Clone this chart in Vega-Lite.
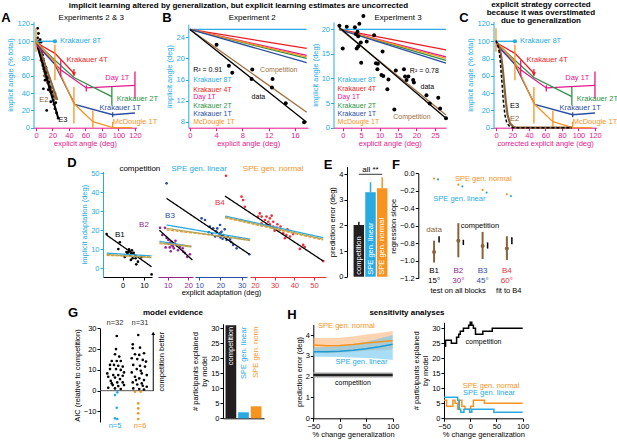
{
"$schema": "https://vega.github.io/schema/vega-lite/v6.json",
"width": 617, "height": 440, "autosize": "none", "padding": 0, "background": "white",
"config": {
  "view": {"stroke": null},
  "font": "Liberation Sans",
  "axis": {"grid": false, "labelFontSize": 7.5, "titleFontSize": 7.5, "titleFontWeight": "normal", "tickSize": 3, "labelFlush": false, "labelOverlap": false, "labelPadding": 1, "titlePadding": 2, "labelFont": "Liberation Sans", "titleFont": "Liberation Sans", "domainColor": "#000", "tickColor": "#000", "labelColor": "#000", "titleColor": "#000"},
  "text": {"font": "Liberation Sans", "fontSize": 7.5},
  "point": {"filled": true, "opacity": 1}
},
"resolve": {"scale": {"x": "independent", "y": "independent", "color": "independent", "shape": "independent", "strokeDash": "independent"}, "axis": {"x": "independent", "y": "independent"}},
"datasets": {
  "labs": [
    {"s":"Krakauer 8T","x":0,"y":100},{"s":"Krakauer 8T","x":23,"y":100},
    {"s":"Krakauer 4T","x":1,"y":98},{"s":"Krakauer 4T","x":23,"y":86},{"s":"Krakauer 4T","x":46,"y":63},
    {"s":"Day 1T","x":0,"y":96},{"s":"Day 1T","x":30,"y":67},{"s":"Day 1T","x":61,"y":46},{"s":"Day 1T","x":120,"y":49},
    {"s":"Krakauer 2T","x":1,"y":98},{"s":"Krakauer 2T","x":23,"y":78},{"s":"Krakauer 2T","x":46,"y":58},{"s":"Krakauer 2T","x":92,"y":36},
    {"s":"Krakauer 1T","x":1,"y":97},{"s":"Krakauer 1T","x":23,"y":73},{"s":"Krakauer 1T","x":47,"y":27},{"s":"Krakauer 1T","x":93,"y":15},{"s":"Krakauer 1T","x":120,"y":17},
    {"s":"McDougle 1T","x":0,"y":100},{"s":"McDougle 1T","x":23,"y":76},{"s":"McDougle 1T","x":46,"y":28},{"s":"McDougle 1T","x":69,"y":7},{"s":"McDougle 1T","x":93,"y":0},{"s":"McDougle 1T","x":116,"y":0}
  ],
  "labErr": [
    {"s":"Day 1T","x":30,"y":59,"y2":78},{"s":"Day 1T","x":61,"y":42,"y2":49},{"s":"Day 1T","x":120,"y":34,"y2":65},
    {"s":"Krakauer 2T","x":92,"y":26,"y2":47},
    {"s":"Krakauer 1T","x":93,"y":12,"y2":18},
    {"s":"Krakauer 4T","x":46,"y":60,"y2":68},
    {"s":"McDougle 1T","x":0,"y":88,"y2":115},{"s":"McDougle 1T","x":23,"y":55,"y2":96},{"s":"McDougle 1T","x":46,"y":5,"y2":47},{"s":"McDougle 1T","x":69,"y":0,"y2":20},{"s":"McDougle 1T","x":93,"y":0,"y2":7}
  ],
  "labMark": [{"s":"Krakauer 8T","x":23,"y":100,"shape":"circle"},{"s":"Krakauer 4T","x":46,"y":62,"shape":"triangle-down"}],
  "labText": [
    {"s":"Krakauer 8T","x":29,"y":100.8,"t":"Krakauer 8T"},
    {"s":"Krakauer 4T","x":37,"y":78,"t":"Krakauer 4T"},
    {"s":"Day 1T","x":84,"y":57,"t":"Day 1T"},
    {"s":"Krakauer 2T","x":98,"y":33.5,"t":"Krakauer 2T"},
    {"s":"Krakauer 1T","x":77,"y":22.5,"t":"Krakauer 1T"},
    {"s":"McDougle 1T","x":93,"y":7,"t":"McDougle 1T"}
  ],
  "aEpts": [
    {"s":"E2","x":3,"y":97},{"s":"E2","x":4,"y":93},{"s":"E2","x":5,"y":95},{"s":"E2","x":5,"y":88},{"s":"E2","x":6,"y":84},{"s":"E2","x":6,"y":90},{"s":"E2","x":7,"y":80},{"s":"E2","x":7,"y":85},{"s":"E2","x":8,"y":76},{"s":"E2","x":8,"y":72},{"s":"E2","x":9,"y":74},{"s":"E2","x":9,"y":68},{"s":"E2","x":10,"y":70},{"s":"E2","x":10,"y":65},{"s":"E2","x":11,"y":66},{"s":"E2","x":11,"y":62},{"s":"E2","x":12,"y":63},{"s":"E2","x":12,"y":58},{"s":"E2","x":13,"y":60},{"s":"E2","x":13,"y":55},{"s":"E2","x":14,"y":56},{"s":"E2","x":14,"y":52},{"s":"E2","x":15,"y":53},{"s":"E2","x":16,"y":50},{"s":"E2","x":16,"y":47},{"s":"E2","x":17,"y":48},{"s":"E2","x":18,"y":44},{"s":"E2","x":19,"y":46},{"s":"E2","x":19,"y":41},{"s":"E2","x":20,"y":42},{"s":"E2","x":21,"y":38},{"s":"E2","x":22,"y":36},{"s":"E2","x":23,"y":40},{"s":"E2","x":24,"y":34},{"s":"E2","x":6,"y":78},{"s":"E2","x":9,"y":80},{"s":"E2","x":12,"y":68},{"s":"E2","x":15,"y":58},{"s":"E2","x":10,"y":60},{"s":"E2","x":17,"y":42},
    {"s":"E3","x":2,"y":115},{"s":"E3","x":3,"y":109},{"s":"E3","x":2,"y":104},{"s":"E3","x":4,"y":100},{"s":"E3","x":3,"y":96},{"s":"E3","x":6,"y":94},{"s":"E3","x":7,"y":88},{"s":"E3","x":8,"y":84},{"s":"E3","x":9,"y":78},{"s":"E3","x":10,"y":74},{"s":"E3","x":12,"y":70},{"s":"E3","x":13,"y":64},{"s":"E3","x":14,"y":58},{"s":"E3","x":16,"y":53},{"s":"E3","x":17,"y":47},{"s":"E3","x":19,"y":41},{"s":"E3","x":20,"y":36},{"s":"E3","x":21,"y":32},{"s":"E3","x":22,"y":27},{"s":"E3","x":23,"y":22},{"s":"E3","x":25,"y":17},{"s":"E3","x":27,"y":11},{"s":"E3","x":13,"y":20},{"s":"E3","x":11,"y":55},{"s":"E3","x":6,"y":99},{"s":"E3","x":15,"y":44},{"s":"E3","x":18,"y":30},{"s":"E3","x":9,"y":45},{"s":"E3","x":5,"y":102},{"s":"E3","x":24,"y":29}
  ],
  "aElines": [{"s":"E2","x":0,"y":103},{"s":"E2","x":26,"y":32},{"s":"E3","x":0,"y":100},{"s":"E3","x":27,"y":11}],
  "aEtext": [{"s":"E2","x":4,"y":32,"t":"E2"},{"s":"E3","x":27,"y":9,"t":"E3"}],
  "cElines": [
    {"s":"E2","x":0,"y":100},{"s":"E2","x":3,"y":96},{"s":"E2","x":6,"y":85},{"s":"E2","x":8,"y":70},{"s":"E2","x":10,"y":50},{"s":"E2","x":12,"y":30},{"s":"E2","x":14,"y":15},{"s":"E2","x":17,"y":5},{"s":"E2","x":21,"y":1},{"s":"E2","x":25,"y":0},{"s":"E2","x":92,"y":0},
    {"s":"E3","x":0,"y":101},{"s":"E3","x":3,"y":93},{"s":"E3","x":5,"y":80},{"s":"E3","x":7,"y":55},{"s":"E3","x":9,"y":30},{"s":"E3","x":11,"y":14},{"s":"E3","x":13,"y":6},{"s":"E3","x":16,"y":2},{"s":"E3","x":20,"y":0},{"s":"E3","x":92,"y":0}
  ],
  "cEtext": [{"s":"E3","x":17,"y":25,"t":"E3"},{"s":"E2","x":17,"y":10,"t":"E2"}],
  "exp2Lines": [
    {"s":"Krakauer 8T","x":0,"y":25.5},{"s":"Krakauer 8T","x":17.8,"y":25.5},
    {"s":"Krakauer 4T","x":0,"y":25.5},{"s":"Krakauer 4T","x":17.8,"y":21.9},
    {"s":"Day 1T","x":0,"y":25.5},{"s":"Day 1T","x":17.8,"y":20.6},
    {"s":"Krakauer 2T","x":0,"y":25.5},{"s":"Krakauer 2T","x":17.8,"y":20.0},
    {"s":"McDougle 1T","x":0,"y":25.5},{"s":"McDougle 1T","x":17.8,"y":20.3},
    {"s":"Krakauer 1T","x":0,"y":25.5},{"s":"Krakauer 1T","x":17.8,"y":19.2},
    {"s":"Competition","x":0,"y":25.5},{"s":"Competition","x":17.8,"y":9.8},
    {"s":"data","x":0,"y":25.5},{"s":"data","x":17.8,"y":7.9}
  ],
  "exp2Pts": [{"x":4.06,"y":22.6},{"x":5.94,"y":18.6},{"x":6.45,"y":17.3},{"x":9.4,"y":16.1},{"x":9.5,"y":17.9},{"x":12.6,"y":16.1},{"x":12.5,"y":14.5},{"x":14.6,"y":11.5},{"x":17.4,"y":7.9}],
  "exp2Text": [
    {"s":"data","x":0.5,"y":17.8,"t":"R² = 0.91"},
    {"s":"Krakauer 8T","x":0.5,"y":16.0,"t":"Krakauer 8T"},
    {"s":"Krakauer 4T","x":0.5,"y":14.1,"t":"Krakauer 4T"},
    {"s":"Day 1T","x":0.5,"y":12.6,"t":"Day 1T"},
    {"s":"Krakauer 2T","x":0.5,"y":11.0,"t":"Krakauer 2T"},
    {"s":"Krakauer 1T","x":0.5,"y":9.45,"t":"Krakauer 1T"},
    {"s":"McDougle 1T","x":0.5,"y":7.95,"t":"McDougle 1T"},
    {"s":"Competition","x":10.7,"y":17.9,"t":"Competition"},
    {"s":"data","x":9.4,"y":12.6,"t":"data"}
  ],
  "exp3Lines": [
    {"s":"Krakauer 8T","x":-1,"y":20},{"s":"Krakauer 8T","x":28,"y":20},
    {"s":"Krakauer 4T","x":-1,"y":20},{"s":"Krakauer 4T","x":28,"y":15.8},
    {"s":"Day 1T","x":-1,"y":20},{"s":"Day 1T","x":28,"y":14.4},
    {"s":"Krakauer 2T","x":-1,"y":20},{"s":"Krakauer 2T","x":28,"y":13.7},
    {"s":"McDougle 1T","x":-1,"y":20},{"s":"McDougle 1T","x":28,"y":14.1},
    {"s":"Krakauer 1T","x":-1,"y":20},{"s":"Krakauer 1T","x":28,"y":13.1},
    {"s":"Competition","x":-1,"y":20.2},{"s":"Competition","x":28,"y":2.6},
    {"s":"data","x":-1,"y":20.4},{"s":"data","x":28,"y":1.9}
  ],
  "exp3Pts": [{"x":-0.9,"y":20.7},{"x":0,"y":16.1},{"x":1.1,"y":20.5},{"x":3.3,"y":20.4},{"x":4,"y":19.5},{"x":4.5,"y":21.1},{"x":3.6,"y":19},{"x":4.2,"y":18.6},{"x":5.6,"y":22.7},{"x":3.8,"y":16.1},{"x":4.2,"y":16.5},{"x":4.9,"y":17.3},{"x":6.5,"y":17.5},{"x":5,"y":13.2},{"x":8.5,"y":18.8},{"x":9,"y":13.1},{"x":9.5,"y":13},{"x":9.4,"y":11.9},{"x":10.8,"y":15.5},{"x":10.5,"y":10.7},{"x":11,"y":10.5},{"x":12.4,"y":9.8},{"x":12.1,"y":7.8},{"x":14.4,"y":11.6},{"x":14,"y":3.7},{"x":16.6,"y":11.9},{"x":16.9,"y":10.4},{"x":17.3,"y":9.7},{"x":17.8,"y":10.4},{"x":19.1,"y":9.7},{"x":19.3,"y":9.2},{"x":22.7,"y":6.6},{"x":23.6,"y":4.9},{"x":25.9,"y":6.1},{"x":26.4,"y":3.9},{"x":28,"y":1.9}],
  "exp3Text": [
    {"s":"Krakauer 8T","x":-1.4,"y":9.7,"t":"Krakauer 8T"},
    {"s":"Krakauer 4T","x":-1.4,"y":7.8,"t":"Krakauer 4T"},
    {"s":"Day 1T","x":-1.4,"y":6.2,"t":"Day 1T"},
    {"s":"Krakauer 2T","x":-1.4,"y":4.4,"t":"Krakauer 2T"},
    {"s":"Krakauer 1T","x":-1.4,"y":2.8,"t":"Krakauer 1T"},
    {"s":"McDougle 1T","x":-1.4,"y":1.2,"t":"McDougle 1T"},
    {"s":"data","x":18.2,"y":11.6,"t":"R² = 0.78"},
    {"s":"data","x":21.1,"y":8.3,"t":"data"},
    {"s":"Competition","x":13.7,"y":2.1,"t":"Competition"}
  ],
  "dPts": [
    {"b":"B1","x":-7.5,"y":18},{"b":"B1","x":-1.3,"y":13.7},{"b":"B1","x":-2,"y":10.1},{"b":"B1","x":2.6,"y":8.4},{"b":"B1","x":1.8,"y":8.6},{"b":"B1","x":3.3,"y":9.0},{"b":"B1","x":4.0,"y":7.6},{"b":"B1","x":2.2,"y":7.5},{"b":"B1","x":3.5,"y":7.0},{"b":"B1","x":4.7,"y":5.3},{"b":"B1","x":3.9,"y":4.4},{"b":"B1","x":6.1,"y":5.3},{"b":"B1","x":7.2,"y":3.5},{"b":"B1","x":6.4,"y":2.1},{"b":"B1","x":13.6,"y":-3.2},{"b":"B1","x":5.2,"y":8.2},{"b":"B1","x":1.0,"y":6.0},{"b":"B1","x":4.4,"y":9.4},{"b":"B1","x":8.8,"y":5.8},{"b":"B1","x":3.0,"y":10.0},
    {"b":"B2","x":6.3,"y":21.3},{"b":"B2","x":8.7,"y":21.3},{"b":"B2","x":7.4,"y":17.5},{"b":"B2","x":10.3,"y":14.9},{"b":"B2","x":11.9,"y":12.3},{"b":"B2","x":11.2,"y":13.5},{"b":"B2","x":12.5,"y":11.5},{"b":"B2","x":12.7,"y":12.2},{"b":"B2","x":13.5,"y":13.0},{"b":"B2","x":11.0,"y":11.0},{"b":"B2","x":12.0,"y":14.0},{"b":"B2","x":10.5,"y":12.8},{"b":"B2","x":13.0,"y":10.5},{"b":"B2","x":9.5,"y":16.0},{"b":"B2","x":14.5,"y":12.0},{"b":"B2","x":16,"y":11.4},{"b":"B2","x":17.6,"y":8.8},{"b":"B2","x":18.4,"y":8.0},{"b":"B2","x":20.8,"y":7.4},{"b":"B2","x":17.3,"y":10.5},{"b":"B2","x":15.0,"y":9.5},{"b":"B2","x":13.8,"y":14.5},{"b":"B2","x":9.0,"y":11.0},{"b":"B2","x":11.5,"y":9.0},{"b":"B2","x":19.5,"y":6.0},
    {"b":"B3","x":-5.4,"y":44.7},{"b":"B3","x":11.1,"y":26.3},{"b":"B3","x":12.7,"y":25.4},{"b":"B3","x":15,"y":21.9},{"b":"B3","x":16.6,"y":21.1},{"b":"B3","x":19.8,"y":22.8},{"b":"B3","x":19.8,"y":18.4},{"b":"B3","x":21.3,"y":17.5},{"b":"B3","x":22.9,"y":14.9},{"b":"B3","x":26,"y":12.3},{"b":"B3","x":27.6,"y":10.5},{"b":"B3","x":33.6,"y":7.4},{"b":"B3","x":18,"y":19.5},{"b":"B3","x":19,"y":17},{"b":"B3","x":20.5,"y":19.2},{"b":"B3","x":22,"y":20.5},{"b":"B3","x":17.5,"y":16.8},{"b":"B3","x":23.5,"y":16.5},{"b":"B3","x":21,"y":15.5},{"b":"B3","x":18.5,"y":21},{"b":"B3","x":24.5,"y":15.2},{"b":"B3","x":16,"y":18},{"b":"B3","x":20,"y":16.2},{"b":"B3","x":25,"y":13.8},{"b":"B3","x":14.5,"y":19},
    {"b":"B4","x":5.3,"y":48.7},{"b":"B4","x":13.2,"y":37.7},{"b":"B4","x":14,"y":35.9},{"b":"B4","x":14.9,"y":32.4},{"b":"B4","x":22.5,"y":28.9},{"b":"B4","x":23.4,"y":27.2},{"b":"B4","x":25.9,"y":27.2},{"b":"B4","x":28.5,"y":27.7},{"b":"B4","x":25.1,"y":25.4},{"b":"B4","x":26.8,"y":24.5},{"b":"B4","x":27.6,"y":23.1},{"b":"B4","x":29.3,"y":21.9},{"b":"B4","x":31,"y":21.4},{"b":"B4","x":26,"y":22.8},{"b":"B4","x":23.4,"y":23.7},{"b":"B4","x":32.7,"y":20.2},{"b":"B4","x":34.4,"y":18.4},{"b":"B4","x":36,"y":17.5},{"b":"B4","x":37.8,"y":16.7},{"b":"B4","x":35.2,"y":15.8},{"b":"B4","x":39.4,"y":18},{"b":"B4","x":44.5,"y":12.3},{"b":"B4","x":42.8,"y":10.2},{"b":"B4","x":45.3,"y":11.2},{"b":"B4","x":54.7,"y":3.8},{"b":"B4","x":27.6,"y":26.3},{"b":"B4","x":29.3,"y":24.5},{"b":"B4","x":21.6,"y":27.2},{"b":"B4","x":31.4,"y":23.2},{"b":"B4","x":33,"y":22},{"b":"B4","x":30,"y":19.8},{"b":"B4","x":36.5,"y":20.5}
  ],
  "dLines": [
    {"b":"B1","m":"competition","x":-7.5,"y":17.5},{"b":"B1","m":"competition","x":13.6,"y":0.8},
    {"b":"B1","m":"linear","x":-7.5,"y":8},{"b":"B1","m":"linear","x":13.6,"y":6.5},
    {"b":"B1","m":"normal","x":-7.5,"y":6.8},{"b":"B1","m":"normal","x":13.6,"y":6.0},
    {"b":"B1","m":"olive","x":-7.5,"y":7.3},{"b":"B1","m":"olive","x":13.6,"y":5.6},
    {"b":"B2","m":"competition","x":6,"y":20},{"b":"B2","m":"competition","x":22,"y":4.4},
    {"b":"B2","m":"linear","x":6,"y":14.2},{"b":"B2","m":"linear","x":21.5,"y":11.5},
    {"b":"B2","m":"normal","x":6,"y":13.0},{"b":"B2","m":"normal","x":21.5,"y":11.8},
    {"b":"B2","m":"olive","x":6,"y":13.5},{"b":"B2","m":"olive","x":21.5,"y":11.2},
    {"b":"B3","m":"competition","x":-5.4,"y":36.8},{"b":"B3","m":"competition","x":33.6,"y":7.4},
    {"b":"B3","m":"linear","x":-5.4,"y":22.8},{"b":"B3","m":"linear","x":34,"y":15.3},
    {"b":"B3","m":"normal","x":-5.4,"y":20.2},{"b":"B3","m":"normal","x":34,"y":15.0},
    {"b":"B3","m":"olive","x":-5.4,"y":21},{"b":"B3","m":"olive","x":34,"y":14.6},
    {"b":"B4","m":"competition","x":4.8,"y":38},{"b":"B4","m":"competition","x":54.7,"y":3.8},
    {"b":"B4","m":"linear","x":4.8,"y":27.5},{"b":"B4","m":"linear","x":54.7,"y":16.1},
    {"b":"B4","m":"normal","x":4.8,"y":26.6},{"b":"B4","m":"normal","x":54.7,"y":14.9},
    {"b":"B4","m":"olive","x":4.8,"y":27},{"b":"B4","m":"olive","x":54.7,"y":15.3}
  ],
  "eBars": [{"m":"competition","y":2.02,"hi":2.15},{"m":"SPE gen. linear","y":3.3,"hi":3.69},{"m":"SPE gen. normal","y":3.45,"hi":3.88}],
  "fData": [{"b":1,"y":-0.9,"lo":-1.02,"hi":-0.77},{"b":2,"y":-0.77,"lo":-0.96,"hi":-0.57},{"b":3,"y":-0.83,"lo":-0.98,"hi":-0.67},{"b":4,"y":-0.86,"lo":-0.99,"hi":-0.72}],
  "fComp": [{"b":1,"y":-0.79,"y2":-0.72},{"b":2,"y":-0.82,"y2":-0.76},{"b":3,"y":-0.86,"y2":-0.79},{"b":4,"y":-0.81,"y2":-0.73}],
  "fSpe": [{"b":1,"m":"normal","y":-0.06},{"b":2,"m":"normal","y":-0.13},{"b":3,"m":"normal","y":-0.19},{"b":4,"m":"normal","y":-0.24},{"b":1,"m":"linear","y":-0.07},{"b":2,"m":"linear","y":-0.15},{"b":3,"m":"linear","y":-0.22},{"b":4,"m":"linear","y":-0.26}],
  "fLab": [{"k":"B1","b":1,"y":-1.12,"t":"B1"},{"k":"B2","b":2,"y":-1.12,"t":"B2"},{"k":"B3","b":3,"y":-1.12,"t":"B3"},{"k":"B4","b":4,"y":-1.12,"t":"B4"},{"k":"B1","b":1,"y":-1.235,"t":"15°"},{"k":"B2","b":2,"y":-1.235,"t":"30°"},{"k":"B3","b":3,"y":-1.235,"t":"45°"},{"k":"B4","b":4,"y":-1.235,"t":"60°"}],
  "gPts": [
    {"g":"comp","x":1.07,"y":26.3},{"g":"comp","x":1.04,"y":20},{"g":"comp","x":1.0,"y":17.5},{"g":"comp","x":0.87,"y":14.3},{"g":"comp","x":1.07,"y":14.3},{"g":"comp","x":1.23,"y":14.3},{"g":"comp","x":0.96,"y":12.4},{"g":"comp","x":1.13,"y":12},{"g":"comp","x":1.31,"y":11.6},{"g":"comp","x":0.8,"y":10.4},{"g":"comp","x":1.04,"y":10.4},{"g":"comp","x":1.23,"y":10},{"g":"comp","x":1.36,"y":8.8},{"g":"comp","x":0.93,"y":7.5},{"g":"comp","x":1.13,"y":7.5},{"g":"comp","x":0.73,"y":6.7},{"g":"comp","x":1.0,"y":6.3},{"g":"comp","x":1.2,"y":5.6},{"g":"comp","x":0.83,"y":4.7},{"g":"comp","x":1.09,"y":4.0},{"g":"comp","x":1.31,"y":4.0},{"g":"comp","x":0.91,"y":2.7},{"g":"comp","x":1.13,"y":2.2},{"g":"comp","x":0.73,"y":1.4},{"g":"comp","x":1.0,"y":1.1},{"g":"comp","x":1.23,"y":0.8},{"g":"comp","x":0.87,"y":3.5},{"g":"comp","x":1.31,"y":7.2},{"g":"comp","x":0.8,"y":12.4},{"g":"comp","x":1.17,"y":16.4},{"g":"comp","x":0.69,"y":8.3},{"g":"comp","x":1.36,"y":2.7},
    {"g":"lin","x":1.09,"y":-0.8},{"g":"lin","x":1.0,"y":-2.1},{"g":"lin","x":1.07,"y":-8.2},{"g":"lin","x":1.0,"y":-13.3},{"g":"lin","x":1.09,"y":-13.6},
    {"g":"comp","x":1.93,"y":26.8},{"g":"comp","x":1.71,"y":20.4},{"g":"comp","x":2.0,"y":20.7},{"g":"comp","x":1.8,"y":17.5},{"g":"comp","x":1.97,"y":17.2},{"g":"comp","x":2.16,"y":18},{"g":"comp","x":1.67,"y":15.6},{"g":"comp","x":1.89,"y":15.2},{"g":"comp","x":2.11,"y":14.8},{"g":"comp","x":1.73,"y":12.4},{"g":"comp","x":2.0,"y":12},{"g":"comp","x":2.2,"y":11.6},{"g":"comp","x":1.87,"y":10.4},{"g":"comp","x":1.67,"y":8.8},{"g":"comp","x":2.07,"y":8.3},{"g":"comp","x":2.27,"y":7.5},{"g":"comp","x":1.8,"y":6.7},{"g":"comp","x":1.97,"y":5.9},{"g":"comp","x":2.16,"y":5.1},{"g":"comp","x":1.71,"y":4.0},{"g":"comp","x":1.89,"y":3.0},{"g":"comp","x":2.11,"y":2.4},{"g":"comp","x":2.27,"y":1.9},{"g":"comp","x":1.73,"y":1.1},{"g":"comp","x":1.97,"y":0.8},{"g":"comp","x":2.16,"y":0.6},{"g":"comp","x":1.84,"y":5.1},{"g":"comp","x":2.03,"y":9.6},{"g":"comp","x":2.24,"y":14},{"g":"comp","x":1.71,"y":22.3},{"g":"comp","x":2.07,"y":3.5},
    {"g":"norm","x":1.8,"y":-0.5},{"g":"norm","x":2.03,"y":-0.5},{"g":"norm","x":1.93,"y":-6.1},{"g":"norm","x":1.93,"y":-8.5},{"g":"norm","x":1.93,"y":-10.9},{"g":"norm","x":1.93,"y":-13.6}
  ],
  "gBars": [{"m":"competition","y":31,"lab":"competition"},{"m":"SPE gen. linear","y":2,"lab":"SPE gen. linear"},{"m":"SPE gen. normal","y":4,"lab":"SPE gen. norm"}],
  "hBand": [
    {"m":"competition","x":-50,"y":2.08,"lo":1.95,"hi":2.21},{"m":"competition","x":100,"y":2.08,"lo":1.95,"hi":2.21},
    {"m":"normal","x":-50,"y":3.52,"lo":3.17,"hi":3.87},{"m":"normal","x":-25,"y":3.48,"lo":3.13,"hi":3.85},{"m":"normal","x":0,"y":3.5,"lo":3.15,"hi":3.87},{"m":"normal","x":25,"y":3.55,"lo":3.2,"hi":3.93},{"m":"normal","x":50,"y":3.62,"lo":3.24,"hi":4.02},{"m":"normal","x":75,"y":3.68,"lo":3.27,"hi":4.1},{"m":"normal","x":100,"y":3.72,"lo":3.3,"hi":4.19},
    {"m":"linear","x":-50,"y":3.2,"lo":2.96,"hi":3.4},{"m":"linear","x":-25,"y":3.2,"lo":2.95,"hi":3.42},{"m":"linear","x":0,"y":3.22,"lo":2.94,"hi":3.47},{"m":"linear","x":25,"y":3.27,"lo":2.92,"hi":3.56},{"m":"linear","x":50,"y":3.34,"lo":2.9,"hi":3.68},{"m":"linear","x":75,"y":3.44,"lo":2.86,"hi":3.83},{"m":"linear","x":100,"y":3.56,"lo":2.8,"hi":4.0}
  ],
  "hStep": [
    {"m":"competition","x":-50,"y":24},{"m":"competition","x":-47,"y":26},{"m":"competition","x":-36,"y":25},{"m":"competition","x":-26,"y":27},{"m":"competition","x":-22,"y":28},{"m":"competition","x":-19,"y":29},{"m":"competition","x":-13,"y":30},{"m":"competition","x":-3,"y":31},{"m":"competition","x":0,"y":32},{"m":"competition","x":3,"y":31},{"m":"competition","x":6,"y":30},{"m":"competition","x":10,"y":28},{"m":"competition","x":24,"y":29},{"m":"competition","x":42,"y":30},{"m":"competition","x":100,"y":30},
    {"m":"SPE gen. normal","x":-50,"y":6},{"m":"SPE gen. normal","x":-45,"y":4},{"m":"SPE gen. normal","x":-33,"y":6},{"m":"SPE gen. normal","x":-29,"y":5},{"m":"SPE gen. normal","x":-24,"y":3},{"m":"SPE gen. normal","x":-21,"y":6},{"m":"SPE gen. normal","x":-16,"y":4},{"m":"SPE gen. normal","x":-10,"y":3},{"m":"SPE gen. normal","x":1,"y":4},{"m":"SPE gen. normal","x":6,"y":6},{"m":"SPE gen. normal","x":27,"y":5},{"m":"SPE gen. normal","x":100,"y":5},
    {"m":"SPE gen. linear","x":-50,"y":7},{"m":"SPE gen. linear","x":-24,"y":6},{"m":"SPE gen. linear","x":-21,"y":3},{"m":"SPE gen. linear","x":-18,"y":2},{"m":"SPE gen. linear","x":-12,"y":3},{"m":"SPE gen. linear","x":-1,"y":2},{"m":"SPE gen. linear","x":3,"y":3},{"m":"SPE gen. linear","x":45,"y":2},{"m":"SPE gen. linear","x":100,"y":2}
  ]
},
"layer": [
  {
    "encoding": {
      "x": {"field":"x","type":"quantitative","scale":{"domain":[-3,122],"range":[33.5,136.6],"nice":false,"zero":false},"axis":{"orient":"bottom","offset":-312.3,"values":[0,20,40,60,80,100,120],"title":"explicit angle (deg)","titlePadding":0,"domainColor":"#e6168b","tickColor":"#e6168b","labelColor":"#e6168b","titleColor":"#e6168b"}},
      "y": {"field":"y","type":"quantitative","scale":{"domain":[0,123],"range":[127.7,21.4],"nice":false,"zero":false},"axis":{"orient":"left","offset":-33.5,"values":[0,20,40,60,80,100,120],"title":"implicit angle (% total)","domainColor":"#29abe2","tickColor":"#29abe2","labelColor":"#29abe2","titleColor":"#29abe2"}}
    },
    "layer": [
      {"data":{"name":"aEpts"},"mark":{"type":"point","size":8},"encoding":{"color":{"field":"s","type":"nominal","legend":null,"scale":{"domain":["Krakauer 8T","Krakauer 4T","Day 1T","Krakauer 2T","Krakauer 1T","McDougle 1T","E2","E3","Competition","data"],"range":["#29abe2","#ed1c24","#e6168b","#2e9245","#2b4ea2","#f7931e","#8c6239","#000000","#a0703f","#000000"]}}}},
      {"data":{"name":"aElines"},"mark":{"type":"line","strokeWidth":2},"encoding":{"color":{"field":"s","type":"nominal","legend":null,"scale":{"domain":["Krakauer 8T","Krakauer 4T","Day 1T","Krakauer 2T","Krakauer 1T","McDougle 1T","E2","E3","Competition","data"],"range":["#29abe2","#ed1c24","#e6168b","#2e9245","#2b4ea2","#f7931e","#8c6239","#000000","#a0703f","#000000"]}}}},
      {"data":{"name":"labs"},"mark":{"type":"line","strokeWidth":1.3},"encoding":{"color":{"field":"s","type":"nominal","legend":null,"scale":{"domain":["Krakauer 8T","Krakauer 4T","Day 1T","Krakauer 2T","Krakauer 1T","McDougle 1T","E2","E3","Competition","data"],"range":["#29abe2","#ed1c24","#e6168b","#2e9245","#2b4ea2","#f7931e","#8c6239","#000000","#a0703f","#000000"]}}}},
      {"data":{"name":"labErr"},"mark":{"type":"rule","strokeWidth":1.3},"encoding":{"y2":{"field":"y2"},"color":{"field":"s","type":"nominal","legend":null,"scale":{"domain":["Krakauer 8T","Krakauer 4T","Day 1T","Krakauer 2T","Krakauer 1T","McDougle 1T","E2","E3","Competition","data"],"range":["#29abe2","#ed1c24","#e6168b","#2e9245","#2b4ea2","#f7931e","#8c6239","#000000","#a0703f","#000000"]}}}},
      {"data":{"name":"labMark"},"mark":{"type":"point","size":18},"encoding":{"shape":{"field":"shape","type":"nominal","scale":null},"color":{"field":"s","type":"nominal","legend":null,"scale":{"domain":["Krakauer 8T","Krakauer 4T","Day 1T","Krakauer 2T","Krakauer 1T","McDougle 1T","E2","E3","Competition","data"],"range":["#29abe2","#ed1c24","#e6168b","#2e9245","#2b4ea2","#f7931e","#8c6239","#000000","#a0703f","#000000"]}}}},
      {"data":{"name":"labText"},"mark":{"type":"text","align":"left","baseline":"middle"},"encoding":{"text":{"field":"t","type":"nominal"},"color":{"field":"s","type":"nominal","legend":null,"scale":{"domain":["Krakauer 8T","Krakauer 4T","Day 1T","Krakauer 2T","Krakauer 1T","McDougle 1T","E2","E3","Competition","data"],"range":["#29abe2","#ed1c24","#e6168b","#2e9245","#2b4ea2","#f7931e","#8c6239","#000000","#a0703f","#000000"]}}}},
      {"data":{"name":"aEtext"},"mark":{"type":"text","align":"left","baseline":"middle"},"encoding":{"text":{"field":"t","type":"nominal"},"color":{"field":"s","type":"nominal","legend":null,"scale":{"domain":["Krakauer 8T","Krakauer 4T","Day 1T","Krakauer 2T","Krakauer 1T","McDougle 1T","E2","E3","Competition","data"],"range":["#29abe2","#ed1c24","#e6168b","#2e9245","#2b4ea2","#f7931e","#8c6239","#000000","#a0703f","#000000"]}}}},
      {"data":{"values":[{"x":67,"y":127,"t":"Experiments 2 & 3"}]},"mark":{"type":"text","fontSize":8,"baseline":"middle"},"encoding":{"text":{"field":"t","type":"nominal"}}},
      {"data":{"values":[{"x":-36.4,"y":127,"t":"A"}]},"mark":{"type":"text","fontSize":13,"fontWeight":"bold","baseline":"middle"},"encoding":{"text":{"field":"t","type":"nominal"}}}
    ]
  },
  {
    "encoding": {
      "x": {"field":"x","type":"quantitative","scale":{"domain":[-0.25,18],"range":[188.3,308],"nice":false,"zero":false},"axis":{"orient":"bottom","offset":-312.3,"values":[0,4,8,12,16],"title":"explicit angle (deg)","titlePadding":0,"domainColor":"#e6168b","tickColor":"#e6168b","labelColor":"#e6168b","titleColor":"#e6168b"}},
      "y": {"field":"y","type":"quantitative","scale":{"domain":[6.86,26.5],"range":[127.7,24.2],"nice":false,"zero":false},"axis":{"orient":"left","offset":-188.3,"values":[8,12,16,20,24],"title":"implicit angle (deg)","domainColor":"#29abe2","tickColor":"#29abe2","labelColor":"#29abe2","titleColor":"#29abe2"}}
    },
    "layer": [
      {"data":{"name":"exp2Lines"},"mark":{"type":"line","strokeWidth":1.3},"encoding":{"color":{"field":"s","type":"nominal","legend":null,"scale":{"domain":["Krakauer 8T","Krakauer 4T","Day 1T","Krakauer 2T","Krakauer 1T","McDougle 1T","E2","E3","Competition","data"],"range":["#29abe2","#ed1c24","#e6168b","#2e9245","#2b4ea2","#f7931e","#8c6239","#000000","#a0703f","#000000"]}}}},
      {"data":{"name":"exp2Pts"},"mark":{"type":"point","size":16,"color":"#000"}},
      {"data":{"name":"exp2Text"},"mark":{"type":"text","align":"left","baseline":"middle","fontSize":7},"encoding":{"text":{"field":"t","type":"nominal"},"color":{"field":"s","type":"nominal","legend":null,"scale":{"domain":["Krakauer 8T","Krakauer 4T","Day 1T","Krakauer 2T","Krakauer 1T","McDougle 1T","E2","E3","Competition","data"],"range":["#29abe2","#ed1c24","#e6168b","#2e9245","#2b4ea2","#f7931e","#8c6239","#000000","#a0703f","#000000"]}}}},
      {"data":{"values":[{"x":9.5,"y":27.7,"t":"Experiment 2"}]},"mark":{"type":"text","fontSize":8,"baseline":"middle"},"encoding":{"text":{"field":"t","type":"nominal"}}},
      {"data":{"values":[{"x":-3.5,"y":27.7,"t":"B"}]},"mark":{"type":"text","fontSize":13,"fontWeight":"bold","baseline":"middle"},"encoding":{"text":{"field":"t","type":"nominal"}}},
      {"data":{"values":[{"x":7.4,"y":29.95,"t":"implicit learning altered by generalization, but explicit learning estimates are uncorrected"}]},"mark":{"type":"text","fontSize":8,"fontWeight":"bold","baseline":"middle"},"encoding":{"text":{"field":"t","type":"nominal"}}}
    ]
  },
  {
    "encoding": {
      "x": {"field":"x","type":"quantitative","scale":{"domain":[-2.5,28],"range":[333.5,446],"nice":false,"zero":false},"axis":{"orient":"bottom","offset":-312.3,"values":[0,5,10,15,20,25],"title":"explicit angle (deg)","titlePadding":0,"domainColor":"#e6168b","tickColor":"#e6168b","labelColor":"#e6168b","titleColor":"#e6168b"}},
      "y": {"field":"y","type":"quantitative","scale":{"domain":[0,21.5],"range":[127.7,21.9],"nice":false,"zero":false},"axis":{"orient":"left","offset":-333.5,"values":[0,5,10,15,20],"title":"implicit angle (deg)","domainColor":"#29abe2","tickColor":"#29abe2","labelColor":"#29abe2","titleColor":"#29abe2"}}
    },
    "layer": [
      {"data":{"name":"exp3Lines"},"mark":{"type":"line","strokeWidth":1.3},"encoding":{"color":{"field":"s","type":"nominal","legend":null,"scale":{"domain":["Krakauer 8T","Krakauer 4T","Day 1T","Krakauer 2T","Krakauer 1T","McDougle 1T","E2","E3","Competition","data"],"range":["#29abe2","#ed1c24","#e6168b","#2e9245","#2b4ea2","#f7931e","#8c6239","#000000","#a0703f","#000000"]}}}},
      {"data":{"name":"exp3Pts"},"mark":{"type":"point","size":16,"color":"#000"}},
      {"data":{"name":"exp3Text"},"mark":{"type":"text","align":"left","baseline":"middle","fontSize":7},"encoding":{"text":{"field":"t","type":"nominal"},"color":{"field":"s","type":"nominal","legend":null,"scale":{"domain":["Krakauer 8T","Krakauer 4T","Day 1T","Krakauer 2T","Krakauer 1T","McDougle 1T","E2","E3","Competition","data"],"range":["#29abe2","#ed1c24","#e6168b","#2e9245","#2b4ea2","#f7931e","#8c6239","#000000","#a0703f","#000000"]}}}},
      {"data":{"values":[{"x":15,"y":22.3,"t":"Experiment 3"}]},"mark":{"type":"text","fontSize":8,"baseline":"middle"},"encoding":{"text":{"field":"t","type":"nominal"}}}
    ]
  },
  {
    "encoding": {
      "x": {"field":"x","type":"quantitative","scale":{"domain":[-3,122],"range":[493.5,596.6],"nice":false,"zero":false},"axis":{"orient":"bottom","offset":-312.3,"values":[0,20,40,60,80,100,120],"title":"corrected explicit angle (deg)","titlePadding":0,"domainColor":"#e6168b","tickColor":"#e6168b","labelColor":"#e6168b","titleColor":"#e6168b"}},
      "y": {"field":"y","type":"quantitative","scale":{"domain":[0,123],"range":[127.7,21.4],"nice":false,"zero":false},"axis":{"orient":"left","offset":-493.5,"values":[0,20,40,60,80,100,120],"title":"implicit angle (% total)","domainColor":"#29abe2","tickColor":"#29abe2","labelColor":"#29abe2","titleColor":"#29abe2"}}
    },
    "layer": [
      {"data":{"name":"labs"},"mark":{"type":"line","strokeWidth":1.3},"encoding":{"color":{"field":"s","type":"nominal","legend":null,"scale":{"domain":["Krakauer 8T","Krakauer 4T","Day 1T","Krakauer 2T","Krakauer 1T","McDougle 1T","E2","E3","Competition","data"],"range":["#29abe2","#ed1c24","#e6168b","#2e9245","#2b4ea2","#f7931e","#8c6239","#000000","#a0703f","#000000"]}}}},
      {"data":{"name":"labErr"},"mark":{"type":"rule","strokeWidth":1.3},"encoding":{"y2":{"field":"y2"},"color":{"field":"s","type":"nominal","legend":null,"scale":{"domain":["Krakauer 8T","Krakauer 4T","Day 1T","Krakauer 2T","Krakauer 1T","McDougle 1T","E2","E3","Competition","data"],"range":["#29abe2","#ed1c24","#e6168b","#2e9245","#2b4ea2","#f7931e","#8c6239","#000000","#a0703f","#000000"]}}}},
      {"data":{"name":"labMark"},"mark":{"type":"point","size":18},"encoding":{"shape":{"field":"shape","type":"nominal","scale":null},"color":{"field":"s","type":"nominal","legend":null,"scale":{"domain":["Krakauer 8T","Krakauer 4T","Day 1T","Krakauer 2T","Krakauer 1T","McDougle 1T","E2","E3","Competition","data"],"range":["#29abe2","#ed1c24","#e6168b","#2e9245","#2b4ea2","#f7931e","#8c6239","#000000","#a0703f","#000000"]}}}},
      {"data":{"name":"cElines"},"transform":[{"filter":"datum.s == 'E2'"}],"mark":{"type":"line","strokeWidth":2.2,"color":"#8c6239"}},
      {"data":{"name":"cElines"},"transform":[{"filter":"datum.s == 'E3'"}],"mark":{"type":"line","strokeWidth":1.5,"color":"#000","strokeDash":[3,2]}},
      {"data":{"name":"labText"},"mark":{"type":"text","align":"left","baseline":"middle"},"encoding":{"text":{"field":"t","type":"nominal"},"color":{"field":"s","type":"nominal","legend":null,"scale":{"domain":["Krakauer 8T","Krakauer 4T","Day 1T","Krakauer 2T","Krakauer 1T","McDougle 1T","E2","E3","Competition","data"],"range":["#29abe2","#ed1c24","#e6168b","#2e9245","#2b4ea2","#f7931e","#8c6239","#000000","#a0703f","#000000"]}}}},
      {"data":{"name":"cEtext"},"mark":{"type":"text","align":"left","baseline":"middle"},"encoding":{"text":{"field":"t","type":"nominal"},"color":{"field":"s","type":"nominal","legend":null,"scale":{"domain":["Krakauer 8T","Krakauer 4T","Day 1T","Krakauer 2T","Krakauer 1T","McDougle 1T","E2","E3","Competition","data"],"range":["#29abe2","#ed1c24","#e6168b","#2e9245","#2b4ea2","#f7931e","#8c6239","#000000","#a0703f","#000000"]}}}},
      {"data":{"values":[{"x":54.5,"y":142,"t":"explicit strategy corrected"},{"x":54.5,"y":132.4,"t":"because it was overstimated"},{"x":54.5,"y":123.4,"t":"due to generalization"}]},"mark":{"type":"text","fontSize":8,"fontWeight":"bold","baseline":"middle"},"encoding":{"text":{"field":"t","type":"nominal"}}},
      {"data":{"values":[{"x":-38.8,"y":127,"t":"C"}]},"mark":{"type":"text","fontSize":13,"fontWeight":"bold","baseline":"middle"},"encoding":{"text":{"field":"t","type":"nominal"}}}
    ]
  },
  {
    "encoding": {
      "x": {"field":"x","type":"quantitative","scale":{"domain":[-9.2,13.8],"range":[103,152],"nice":false,"zero":false},"axis":{"orient":"bottom","offset":-163,"values":[0,10],"title":null}},
      "y": {"field":"y","type":"quantitative","scale":{"domain":[-4.5,51],"range":[276.85,171.4],"nice":false,"zero":false},"axis":{"orient":"left","offset":-103,"values":[0,10,20,30,40,50],"title":"implicit adaptation (deg)","domainColor":"#29abe2","tickColor":"#29abe2","labelColor":"#29abe2","titleColor":"#29abe2"}}
    },
    "layer": [
      {"data":{"name":"dPts"},"transform":[{"filter":"datum.b == 'B1'"}],"mark":{"type":"point","size":7,"color":"#000"}},
      {"data":{"name":"dLines"},"transform":[{"filter":"datum.b == 'B1'"}],"mark":{"type":"line","strokeWidth":1.3},"encoding":{"color":{"field":"m","type":"nominal","legend":null,"scale":{"domain":["olive","normal","linear","competition"],"range":["#b3a65a","#f7931e","#29abe2","#000000"]}},"strokeDash":{"field":"m","type":"nominal","legend":null,"scale":{"domain":["olive","normal","linear","competition"],"range":[[1,0],[3,1.5],[1,0],[1,0]]}}}},
      {"data":{"values":[{"x":-1.3,"y":17.5,"t":"B1"}]},"mark":{"type":"text","fontSize":8,"baseline":"middle"},"encoding":{"text":{"field":"t","type":"nominal"}}},
      {"data":{"values":[{"x":8.1,"y":52.3,"t":"competition"}]},"mark":{"type":"text","fontSize":8,"baseline":"middle"},"encoding":{"text":{"field":"t","type":"nominal"}}},
      {"data":{"values":[{"x":-23.8,"y":55.4,"t":"D"}]},"mark":{"type":"text","fontSize":13,"fontWeight":"bold","baseline":"middle"},"encoding":{"text":{"field":"t","type":"nominal"}}}
    ]
  },
  {
    "encoding": {
      "x": {"field":"x","type":"quantitative","scale":{"domain":[5.3,22.3],"range":[158,193],"nice":false,"zero":false},"axis":{"orient":"bottom","offset":-163,"values":[10,20],"title":null,"domainColor":"#92278f","tickColor":"#92278f","labelColor":"#92278f"}},
      "y": {"field":"y","type":"quantitative","scale":{"domain":[-4.5,51],"range":[276.85,171.4],"nice":false,"zero":false},"axis":null}
    },
    "layer": [
      {"data":{"name":"dPts"},"transform":[{"filter":"datum.b == 'B2'"}],"mark":{"type":"point","size":7,"color":"#92278f"}},
      {"data":{"name":"dLines"},"transform":[{"filter":"datum.b == 'B2'"}],"mark":{"type":"line","strokeWidth":1.3},"encoding":{"color":{"field":"m","type":"nominal","legend":null,"scale":{"domain":["olive","normal","linear","competition"],"range":["#b3a65a","#f7931e","#29abe2","#000000"]}},"strokeDash":{"field":"m","type":"nominal","legend":null,"scale":{"domain":["olive","normal","linear","competition"],"range":[[1,0],[3,1.5],[1,0],[1,0]]}}}},
      {"data":{"values":[{"x":-1.5,"y":22.8,"t":"B2"}]},"mark":{"type":"text","fontSize":8,"baseline":"middle","color":"#92278f"},"encoding":{"text":{"field":"t","type":"nominal"}}}
    ]
  },
  {
    "encoding": {
      "x": {"field":"x","type":"quantitative","scale":{"domain":[8,32.5],"range":[195,247],"nice":false,"zero":false},"axis":{"orient":"bottom","offset":-163,"values":[10,20,30],"title":"explicit adaptation (deg)","titlePadding":0,"domainColor":"#2b4ea2","tickColor":"#2b4ea2","labelColor":"#2b4ea2","titleColor":"#000"}},
      "y": {"field":"y","type":"quantitative","scale":{"domain":[-4.5,51],"range":[276.85,171.4],"nice":false,"zero":false},"axis":null}
    },
    "layer": [
      {"data":{"name":"dPts"},"transform":[{"filter":"datum.b == 'B3'"}],"mark":{"type":"point","size":7,"color":"#2b4ea2"}},
      {"data":{"name":"dLines"},"transform":[{"filter":"datum.b == 'B3'"}],"mark":{"type":"line","strokeWidth":1.3},"encoding":{"color":{"field":"m","type":"nominal","legend":null,"scale":{"domain":["olive","normal","linear","competition"],"range":["#b3a65a","#f7931e","#29abe2","#000000"]}},"strokeDash":{"field":"m","type":"nominal","legend":null,"scale":{"domain":["olive","normal","linear","competition"],"range":[[1,0],[3,1.5],[1,0],[1,0]]}}}},
      {"data":{"values":[{"x":-3.8,"y":27.5,"t":"B3"}]},"mark":{"type":"text","fontSize":8,"baseline":"middle","color":"#2b4ea2"},"encoding":{"text":{"field":"t","type":"nominal"}}},
      {"data":{"values":[{"x":9.9,"y":52.3,"t":"SPE gen. linear"}]},"mark":{"type":"text","fontSize":8,"baseline":"middle","color":"#29abe2"},"encoding":{"text":{"field":"t","type":"nominal"}}}
    ]
  },
  {
    "encoding": {
      "x": {"field":"x","type":"quantitative","scale":{"domain":[17.5,56],"range":[250,325.8],"nice":false,"zero":false},"axis":{"orient":"bottom","offset":-163,"values":[20,30,40,50],"title":null,"domainColor":"#e8303a","tickColor":"#e8303a","labelColor":"#e8303a"}},
      "y": {"field":"y","type":"quantitative","scale":{"domain":[-4.5,51],"range":[276.85,171.4],"nice":false,"zero":false},"axis":null}
    },
    "layer": [
      {"data":{"name":"dPts"},"transform":[{"filter":"datum.b == 'B4'"}],"mark":{"type":"point","size":7,"color":"#e8303a"}},
      {"data":{"name":"dLines"},"transform":[{"filter":"datum.b == 'B4'"}],"mark":{"type":"line","strokeWidth":1.3},"encoding":{"color":{"field":"m","type":"nominal","legend":null,"scale":{"domain":["olive","normal","linear","competition"],"range":["#b3a65a","#f7931e","#29abe2","#000000"]}},"strokeDash":{"field":"m","type":"nominal","legend":null,"scale":{"domain":["olive","normal","linear","competition"],"range":[[1,0],[3,1.5],[1,0],[1,0]]}}}},
      {"data":{"values":[{"x":2.2,"y":34.2,"t":"B4"}]},"mark":{"type":"text","fontSize":8,"baseline":"middle","color":"#e8303a"},"encoding":{"text":{"field":"t","type":"nominal"}}},
      {"data":{"values":[{"x":29.2,"y":52.3,"t":"SPE gen. normal"}]},"mark":{"type":"text","fontSize":8,"baseline":"middle","color":"#f7931e"},"encoding":{"text":{"field":"t","type":"nominal"}}}
    ]
  },
  {
    "encoding": {
      "x": {"field":"m","type":"nominal","sort":null,"scale":{"domain":["competition","SPE gen. linear","SPE gen. normal"],"range":[353,388],"paddingInner":0.1,"paddingOuter":0.05},"axis":null},
      "y": {"field":"y","type":"quantitative","scale":{"domain":[0,4.3],"range":[276.7,166.6],"nice":false,"zero":false},"axis":{"orient":"left","offset":-347,"values":[0,1,2,3,4],"title":"prediction error (deg)"}}
    },
    "layer": [
      {"data":{"name":"eBars"},"mark":{"type":"rule","strokeWidth":1.5},"encoding":{"y2":{"field":"hi"},"color":{"field":"m","type":"nominal","legend":null,"scale":{"domain":["competition","SPE gen. linear","SPE gen. normal"],"range":["#231f20","#29abe2","#f7931e"]}}}},
      {"data":{"name":"eBars"},"mark":{"type":"bar"},"encoding":{"color":{"field":"m","type":"nominal","legend":null,"scale":{"domain":["competition","SPE gen. linear","SPE gen. normal"],"range":["#231f20","#29abe2","#f7931e"]}}}},
      {"data":{"name":"eBars"},"mark":{"type":"text","angle":270,"align":"left","baseline":"middle","color":"#ffffff","fontSize":7.5},"encoding":{"text":{"field":"m","type":"nominal"},"y":{"datum":0.08,"type":"quantitative","scale":{"domain":[0,4.3],"range":[276.7,166.6],"nice":false,"zero":false},"axis":{"orient":"left","offset":-347,"values":[0,1,2,3,4],"title":"prediction error (deg)"}}}},
      {"data":{"values":[{"m":"competition","m2":"SPE gen. normal","y":4.0}]},"mark":{"type":"rule","strokeWidth":0.8,"color":"#000"},"encoding":{"x2":{"field":"m2"}}},
      {"data":{"values":[{"m":"SPE gen. linear","y":4.03,"t":"all **"}]},"mark":{"type":"text","baseline":"bottom","fontSize":8},"encoding":{"text":{"field":"t","type":"nominal"}}}
    ]
  },
  {
    "encoding": {
      "x": {"field":"b","type":"quantitative","scale":{"domain":[0.35,4.5],"range":[418.3,519],"nice":false,"zero":false},"axis":null},
      "y": {"field":"y","type":"quantitative","scale":{"domain":[-1.2,0],"range":[278.3,173.3],"nice":false,"zero":false},"axis":{"orient":"left","offset":-418.3,"values":[0,-0.2,-0.4,-0.6,-0.8,-1,-1.2],"title":"regression slope"}}
    },
    "layer": [
      {"data":{"name":"fData"},"mark":{"type":"point","size":16,"color":"#8c6239"}},
      {"data":{"name":"fData"},"mark":{"type":"rule","strokeWidth":2,"color":"#8c6239"},"encoding":{"y":{"field":"lo","type":"quantitative","scale":{"domain":[-1.2,0],"range":[278.3,173.3],"nice":false,"zero":false},"axis":{"orient":"left","offset":-418.3,"values":[0,-0.2,-0.4,-0.6,-0.8,-1,-1.2],"title":"regression slope"}},"y2":{"field":"hi"}}},
      {"data":{"name":"fComp"},"mark":{"type":"rule","strokeWidth":1.5,"color":"#000","xOffset":5},"encoding":{"y2":{"field":"y2"}}},
      {"data":{"name":"fSpe"},"transform":[{"filter":"datum.m == 'normal'"}],"mark":{"type":"point","size":5,"color":"#f7931e"}},
      {"data":{"name":"fSpe"},"transform":[{"filter":"datum.m == 'linear'"}],"mark":{"type":"point","size":5,"color":"#29abe2","xOffset":4}},
      {"data":{"values":[{"b":1,"y":-0.65,"t":"data"}]},"mark":{"type":"text","fontSize":8,"baseline":"middle","color":"#8c6239"},"encoding":{"text":{"field":"t","type":"nominal"}}},
      {"data":{"values":[{"b":2.89,"y":-0.6,"t":"competition"}]},"mark":{"type":"text","fontSize":7.5,"baseline":"middle"},"encoding":{"text":{"field":"t","type":"nominal"}}},
      {"data":{"values":[{"b":1.86,"y":-0.06,"t":"SPE gen. normal"}]},"mark":{"type":"text","fontSize":7.5,"align":"left","baseline":"middle","color":"#f7931e"},"encoding":{"text":{"field":"t","type":"nominal"}}},
      {"data":{"values":[{"b":0.97,"y":-0.29,"t":"SPE gen. linear"}]},"mark":{"type":"text","fontSize":7.5,"align":"left","baseline":"middle","color":"#29abe2"},"encoding":{"text":{"field":"t","type":"nominal"}}},
      {"data":{"name":"fLab"},"mark":{"type":"text","fontSize":8,"baseline":"middle"},"encoding":{"text":{"field":"t","type":"nominal"},"color":{"field":"k","type":"nominal","legend":null,"scale":{"domain":["B1","B2","B3","B4"],"range":["#000000","#92278f","#2b4ea2","#e8303a"]}}}},
      {"data":{"values":[{"b":1.99,"y":-1.35,"t":"test on all blocks"},{"b":4.08,"y":-1.35,"t":"fit to B4"}]},"mark":{"type":"text","fontSize":7.5,"baseline":"middle"},"encoding":{"text":{"field":"t","type":"nominal"}}},
      {"data":{"values":[{"b":-3.37,"y":0.095,"t":"E"},{"b":-0.57,"y":0.095,"t":"F"}]},"mark":{"type":"text","fontSize":13,"fontWeight":"bold","baseline":"middle"},"encoding":{"text":{"field":"t","type":"nominal"}}}
    ]
  },
  {
    "encoding": {
      "x": {"field":"x","type":"quantitative","scale":{"domain":[0.4,2.6],"range":[100,155],"nice":false,"zero":false},"axis":null},
      "y": {"field":"y","type":"quantitative","scale":{"domain":[-15,30],"range":[421.9,328.3],"nice":false,"zero":false},"axis":{"orient":"left","offset":-100,"values":[-10,0,10,20,30],"title":"AIC (relative to competition)"}}
    },
    "layer": [
      {"data":{"values":[{"x":0.4,"x2":2.55,"y":0}]},"mark":{"type":"rule","color":"#555","strokeWidth":1},"encoding":{"x2":{"field":"x2"}}},
      {"data":{"name":"gPts"},"mark":{"type":"point","size":7},"encoding":{"color":{"field":"g","type":"nominal","legend":null,"scale":{"domain":["comp","lin","norm"],"range":["#000000","#29abe2","#f7931e"]}}}},
      {"data":{"values":[{"x":2.53,"y":0,"y2":27}]},"mark":{"type":"rule","strokeWidth":1,"color":"#000"},"encoding":{"y2":{"field":"y2"}}},
      {"data":{"values":[{"x":2.53,"y":27.6}]},"mark":{"type":"point","shape":"triangle-up","size":14,"color":"#000"}},
      {"data":{"values":[{"x":1,"y":32.7,"t":"n=32"},{"x":2,"y":32.7,"t":"n=31"}]},"mark":{"type":"text","fontSize":7.5,"baseline":"middle","color":"#333"},"encoding":{"text":{"field":"t","type":"nominal"}}},
      {"data":{"values":[{"x":1,"y":-17,"t":"n=5"}]},"mark":{"type":"text","fontSize":7.5,"baseline":"middle","color":"#29abe2"},"encoding":{"text":{"field":"t","type":"nominal"}}},
      {"data":{"values":[{"x":2,"y":-17,"t":"n=6"}]},"mark":{"type":"text","fontSize":7.5,"baseline":"middle","color":"#f7931e"},"encoding":{"text":{"field":"t","type":"nominal"}}},
      {"data":{"values":[{"x":2.88,"y":14,"t":"competition better"}]},"mark":{"type":"text","fontSize":7.5,"angle":270,"baseline":"middle"},"encoding":{"text":{"field":"t","type":"nominal"}}},
      {"data":{"values":[{"x":-0.68,"y":37.4,"t":"G"}]},"mark":{"type":"text","fontSize":13,"fontWeight":"bold","baseline":"middle"},"encoding":{"text":{"field":"t","type":"nominal"}}},
      {"data":{"values":[{"x":3.32,"y":37.4,"t":"model evidence"}]},"mark":{"type":"text","fontSize":8,"fontWeight":"bold","baseline":"middle"},"encoding":{"text":{"field":"t","type":"nominal"}}}
    ]
  },
  {
    "encoding": {
      "x": {"field":"m","type":"nominal","sort":null,"scale":{"domain":["competition","SPE gen. linear","SPE gen. normal"],"range":[223,264],"paddingInner":0.15,"paddingOuter":0.2},"axis":{"orient":"bottom","offset":-21.7,"labels":false,"ticks":false,"title":null}},
      "y": {"field":"y","type":"quantitative","scale":{"domain":[0,31.5],"range":[418.3,323.8],"nice":false,"zero":false},"axis":{"orient":"left","offset":-223,"values":[0,5,10,15,20,25,30],"title":["# participants explained","by model"]}}
    },
    "layer": [
      {"data":{"name":"gBars"},"mark":{"type":"bar"},"encoding":{"color":{"field":"m","type":"nominal","legend":null,"scale":{"domain":["competition","SPE gen. linear","SPE gen. normal"],"range":["#231f20","#29abe2","#f7931e"]}}}},
      {"data":{"name":"gBars"},"mark":{"type":"text","angle":270,"align":"right","baseline":"middle","fontSize":7.5},"encoding":{"y":{"datum":30.5,"type":"quantitative","scale":{"domain":[0,31.5],"range":[418.3,323.8],"nice":false,"zero":false},"axis":{"orient":"left","offset":-223,"values":[0,5,10,15,20,25,30],"title":["# participants explained","by model"]}},"text":{"field":"lab","type":"nominal"},"color":{"condition":{"test":"datum.m == 'competition'","value":"#ffffff"},"field":"m","type":"nominal","legend":null,"scale":{"domain":["competition","SPE gen. linear","SPE gen. normal"],"range":["#231f20","#29abe2","#f7931e"]}}}}
    ]
  },
  {
    "encoding": {
      "x": {"field":"x","type":"quantitative","scale":{"domain":[-50,100],"range":[313.3,392.7],"nice":false,"zero":false},"axis":{"orient":"bottom","offset":-21.7,"values":[-50,0,50,100],"title":"% change generalization","labelPadding":1.6,"titlePadding":0}},
      "y": {"field":"y","type":"quantitative","scale":{"domain":[0,4.5],"range":[418.3,324.6],"nice":false,"zero":false},"axis":{"orient":"left","offset":-313.3,"values":[0,1,2,3,4],"title":"prediction error (deg)"}}
    },
    "layer": [
      {"data":{"name":"hBand"},"transform":[{"filter":"datum.m == 'competition'"}],"mark":{"type":"area","color":"#bdbdbd","opacity":0.9},"encoding":{"y":{"field":"lo","type":"quantitative","stack":null,"scale":{"domain":[0,4.5],"range":[418.3,324.6],"nice":false,"zero":false},"axis":{"orient":"left","offset":-313.3,"values":[0,1,2,3,4],"title":"prediction error (deg)"}},"y2":{"field":"hi"}}},
      {"data":{"name":"hBand"},"transform":[{"filter":"datum.m == 'normal'"}],"mark":{"type":"area","color":"#fbb57c","opacity":0.6},"encoding":{"y":{"field":"lo","type":"quantitative","stack":null,"scale":{"domain":[0,4.5],"range":[418.3,324.6],"nice":false,"zero":false},"axis":{"orient":"left","offset":-313.3,"values":[0,1,2,3,4],"title":"prediction error (deg)"}},"y2":{"field":"hi"}}},
      {"data":{"name":"hBand"},"transform":[{"filter":"datum.m == 'linear'"}],"mark":{"type":"area","color":"#6ec6ee","opacity":0.6},"encoding":{"y":{"field":"lo","type":"quantitative","stack":null,"scale":{"domain":[0,4.5],"range":[418.3,324.6],"nice":false,"zero":false},"axis":{"orient":"left","offset":-313.3,"values":[0,1,2,3,4],"title":"prediction error (deg)"}},"y2":{"field":"hi"}}},
      {"data":{"name":"hBand"},"transform":[{"filter":"datum.m == 'competition'"}],"mark":{"type":"line","color":"#222","strokeWidth":2.5}},
      {"data":{"name":"hBand"},"transform":[{"filter":"datum.m == 'normal'"}],"mark":{"type":"line","color":"#f7931e","strokeWidth":1.5}},
      {"data":{"name":"hBand"},"transform":[{"filter":"datum.m == 'linear'"}],"mark":{"type":"line","color":"#1b9ad6","strokeWidth":1.5}},
      {"data":{"values":[{"x":-41,"y":4.45,"t":"SPE gen. normal"}]},"mark":{"type":"text","fontSize":7.5,"align":"left","baseline":"middle","color":"#f7931e"},"encoding":{"text":{"field":"t","type":"nominal"}}},
      {"data":{"values":[{"x":41,"y":2.68,"t":"SPE gen. linear"}]},"mark":{"type":"text","fontSize":7.5,"baseline":"middle","color":"#29abe2"},"encoding":{"text":{"field":"t","type":"nominal"}}},
      {"data":{"values":[{"x":25,"y":1.69,"t":"competition"}]},"mark":{"type":"text","fontSize":7,"baseline":"middle"},"encoding":{"text":{"field":"t","type":"nominal"}}},
      {"data":{"values":[{"x":-90.3,"y":4.97,"t":"H"}]},"mark":{"type":"text","fontSize":13,"fontWeight":"bold","baseline":"middle"},"encoding":{"text":{"field":"t","type":"nominal"}}},
      {"data":{"values":[{"x":127,"y":5.06,"t":"sensitivity analyses"}]},"mark":{"type":"text","fontSize":8,"fontWeight":"bold","baseline":"middle"},"encoding":{"text":{"field":"t","type":"nominal"}}}
    ]
  },
  {
    "encoding": {
      "x": {"field":"x","type":"quantitative","scale":{"domain":[-50,100],"range":[444,522.7],"nice":false,"zero":false},"axis":{"orient":"bottom","offset":-21.7,"values":[-50,0,50,100],"title":"% change generalization","labelPadding":1.6,"titlePadding":0}},
      "y": {"field":"y","type":"quantitative","scale":{"domain":[0,32],"range":[418.3,322.3],"nice":false,"zero":false},"axis":{"orient":"left","offset":-444,"values":[0,5,10,15,20,25,30],"title":["# participants explained","by model"]}}
    },
    "layer": [
      {"data":{"name":"hStep"},"mark":{"type":"line","interpolate":"step-after","strokeWidth":1.5},"encoding":{"color":{"field":"m","type":"nominal","legend":null,"scale":{"domain":["competition","SPE gen. normal","SPE gen. linear"],"range":["#000000","#f7931e","#29abe2"]}}}},
      {"data":{"values":[{"x":25.3,"y":25.5,"t":"competition"}]},"mark":{"type":"text","fontSize":7,"baseline":"middle"},"encoding":{"text":{"field":"t","type":"nominal"}}},
      {"data":{"values":[{"x":39.6,"y":10.9,"t":"SPE gen. normal"}]},"mark":{"type":"text","fontSize":7.5,"baseline":"middle","color":"#f7931e"},"encoding":{"text":{"field":"t","type":"nominal"}}},
      {"data":{"values":[{"x":35.8,"y":8.3,"t":"SPE gen. linear"}]},"mark":{"type":"text","fontSize":7.5,"baseline":"middle","color":"#29abe2"},"encoding":{"text":{"field":"t","type":"nominal"}}}
    ]
  }
]
}
